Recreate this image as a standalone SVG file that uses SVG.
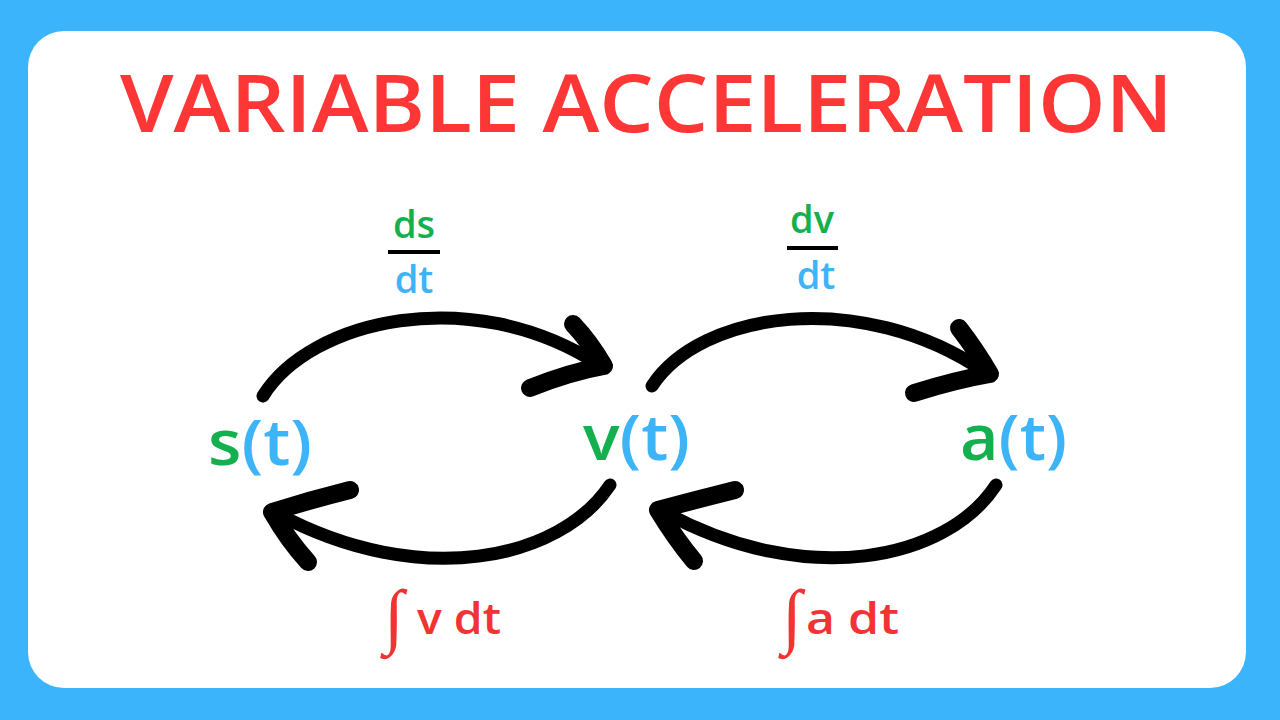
<svg xmlns="http://www.w3.org/2000/svg" width="1280" height="720" viewBox="0 0 1280 720">
<style>
.title{font-family:"Open Sans","Liberation Sans",sans-serif;font-weight:600;font-size:80px;fill:#FF3636}
.node{font-family:"Open Sans","Liberation Sans",sans-serif;font-weight:600;font-size:64px}
.frac{font-family:"Open Sans","Liberation Sans",sans-serif;font-weight:600;font-size:38px}
.int{font-family:"Open Sans","Liberation Sans",sans-serif;font-weight:600;font-size:44px;fill:#F23333}
.isign{font-family:"DejaVu Sans ExtraLight","Liberation Serif",serif;font-weight:200;font-size:72px;fill:#F23333}
.g{fill:#14B04F}
.b{fill:#3DB4F7}
.curve{fill:none;stroke:#000;stroke-width:13;stroke-linecap:round}
.barb{fill:none;stroke:#000;stroke-width:18;stroke-linecap:round;stroke-linejoin:round}
.bar{stroke:#000;stroke-width:4}
</style>
<rect x="0" y="0" width="1280" height="720" fill="#3CB4FC"/>
<rect x="28" y="31" width="1218" height="657" rx="36" ry="36" fill="#FFFFFF"/>
<text class="title" x="120" y="132" textLength="1053" lengthAdjust="spacingAndGlyphs">VARIABLE ACCELERATION</text>

<g id="connectors">
  <g id="arrow-s-v">
    <path class="curve" d="M263,396 C310,320 470,282 598,364"/>
    <path class="barb" d="M573,324 Q590,342 604,366 Q570,372 530,388"/>
  </g>
  <g id="arrow-v-a">
    <path class="curve" d="M652,386 C700,312 860,287 985,372"/>
    <path class="barb" d="M959,328 Q976,350 990,374 Q955,380 914,393"/>
  </g>
  <g id="arrow-v-s">
    <path class="curve" d="M610,485 C560,560 420,590 278,514"/>
    <path class="barb" d="M350,490 Q310,500 272,512 Q288,540 308,562"/>
  </g>
  <g id="arrow-a-v">
    <path class="curve" d="M996,485 C947,560 807,590 664,512"/>
    <path class="barb" d="M735,490 Q695,500 658,510 Q675,538 694,561"/>
  </g>
</g>

<g id="node-s">
  <text class="node" x="208" y="465" textLength="104" lengthAdjust="spacingAndGlyphs"><tspan class="g">s</tspan><tspan class="b">(t)</tspan></text>
</g>
<g id="node-v">
  <text class="node" x="583" y="460" textLength="107" lengthAdjust="spacingAndGlyphs"><tspan class="g">v</tspan><tspan class="b">(t)</tspan></text>
</g>
<g id="node-a">
  <text class="node" x="960" y="460" textLength="107" lengthAdjust="spacingAndGlyphs"><tspan class="g">a</tspan><tspan class="b">(t)</tspan></text>
</g>

<g id="label-ds-dt">
  <text class="frac g" x="414" y="238" text-anchor="middle">ds</text>
  <line class="bar" x1="388" y1="252" x2="440" y2="252"/>
  <text class="frac b" x="414" y="293" text-anchor="middle">dt</text>
</g>
<g id="label-dv-dt">
  <text class="frac g" x="812" y="233" text-anchor="middle">dv</text>
  <line class="bar" x1="787" y1="248" x2="838" y2="248"/>
  <text class="frac b" x="816" y="289" text-anchor="middle">dt</text>
</g>
<g id="label-int-v">
  <text class="isign" x="384" y="640">∫</text>
  <text class="int" x="417" y="634" textLength="84" lengthAdjust="spacingAndGlyphs">v dt</text>
</g>
<g id="label-int-a">
  <text class="isign" x="782" y="640">∫</text>
  <text class="int" x="806" y="634" textLength="93" lengthAdjust="spacingAndGlyphs">a dt</text>
</g>
</svg>
